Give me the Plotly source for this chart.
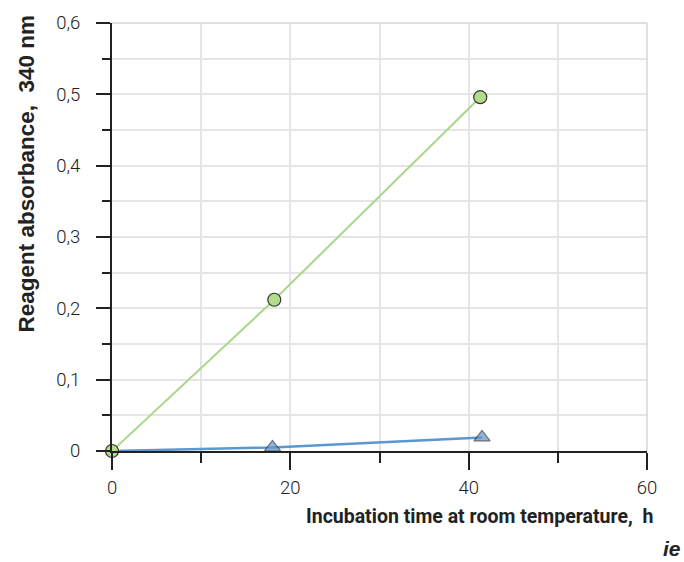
import plotly.graph_objects as go

# Data
time_green = [0, 18.2, 41.3]
abs_green = [0, 0.212, 0.496]
time_blue = [0, 18.0, 41.5]
abs_blue = [0, 0.005, 0.019]

x_tickvals = [0, 20, 40, 60]
x_ticktext = ["0", "20", "40", "60"]
y_tickvals = [0, 0.1, 0.2, 0.3, 0.4, 0.5, 0.6]
y_ticktext = ["0", "0,1", "0,2", "0,3", "0,4", "0,5", "0,6"]

FONT = "Roboto, Arial, sans-serif"
FONT_Y = "Liberation Sans, Arial, sans-serif"

fig = go.Figure()
fig.add_trace(go.Scatter(
    x=time_blue, y=abs_blue, mode="lines+markers",
    line=dict(color="#5b97d1", width=2.5),
    marker=dict(symbol="triangle-up", size=[0, 14, 14], color="#5b97d1",
                line=dict(color="#333333", width=1.2)),
    cliponaxis=False, showlegend=False))
fig.add_trace(go.Scatter(
    x=time_green, y=abs_green, mode="lines+markers",
    line=dict(color="#a9d78a", width=2),
    marker=dict(symbol="circle", size=13, color="#b3dc8a",
                line=dict(color="#333333", width=1.2)),
    cliponaxis=False, showlegend=False))

tickfont = dict(family=FONT, size=18.5, color="#222222", weight=300)

fig.update_layout(
    width=684, height=562,
    margin=dict(l=112, r=37, t=17, b=111),
    plot_bgcolor="white", paper_bgcolor="white",
    font=dict(family=FONT, size=17, color="#222222"),
    xaxis=dict(range=[0, 60], tickvals=x_tickvals, ticktext=x_ticktext,
               tickfont=tickfont, ticklabelstandoff=2,
               showline=True, linecolor="#222222", linewidth=2,
               ticks="outside", ticklen=17, tickwidth=2, tickcolor="#222222",
               showgrid=True, gridcolor="#e5e5e5", gridwidth=1.5,
               minor=dict(tickvals=[10, 30, 50], ticks="outside", ticklen=10,
                          tickwidth=2, tickcolor="#222222", showgrid=True,
                          gridcolor="#e5e5e5", gridwidth=1.5),
               zeroline=False, fixedrange=True),
    yaxis=dict(range=[0, 0.6], tickvals=y_tickvals, ticktext=y_ticktext,
               tickfont=tickfont, ticklabelstandoff=12,
               showline=True, linecolor="#222222", linewidth=2,
               ticks="outside", ticklen=14, tickwidth=2, tickcolor="#222222",
               showgrid=True, gridcolor="#e5e5e5", gridwidth=1.5,
               minor=dict(tickvals=[0.05, 0.15, 0.25, 0.35, 0.45, 0.55],
                          ticks="outside", ticklen=8, tickwidth=2,
                          tickcolor="#222222", showgrid=True,
                          gridcolor="#e5e5e5", gridwidth=1.5),
               zeroline=False, fixedrange=True),
)

# top and right border (light gray)
fig.add_shape(type="line", xref="paper", yref="paper", x0=0, x1=1, y0=1, y1=1,
              line=dict(color="#d6d6d6", width=1.5))
fig.add_shape(type="line", xref="paper", yref="paper", x0=1, x1=1, y0=0, y1=1,
              line=dict(color="#d6d6d6", width=1.5))

fig.add_annotation(text="<b>Incubation time at room temperature,\u00a0\u00a0h</b>",
                   xref="paper", yref="paper", x=1.015, y=-0.153,
                   xanchor="right", yanchor="middle", showarrow=False,
                   font=dict(family=FONT, size=19.5, color="#222222"))
fig.add_annotation(text="<b>Reagent absorbance,\u00a0\u00a0340 nm</b>",
                   xref="paper", yref="paper", x=-0.159, y=0.648,
                   xanchor="center", yanchor="middle", textangle=-90,
                   showarrow=False,
                   font=dict(family=FONT_Y, size=22.5, color="#222222"))
fig.add_annotation(text="<b><i>ie</i></b>", xref="paper", yref="paper",
                   x=1.067, y=-0.228, xanchor="right", yanchor="middle",
                   showarrow=False,
                   font=dict(family=FONT_Y, size=21, color="#222222"))

fig.write_html("out.html")
